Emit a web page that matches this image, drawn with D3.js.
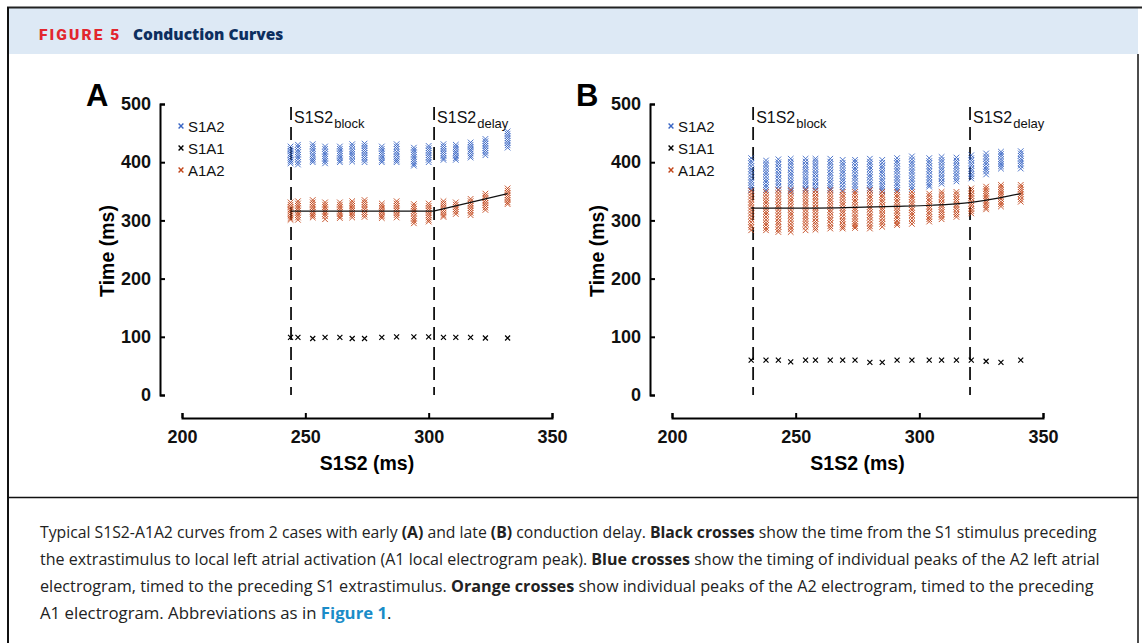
<!DOCTYPE html>
<html>
<head>
<meta charset="utf-8">
<script src="https://cdn.jsdelivr.net/npm/d3@7"></script>
<style>
  body { margin: 0; background: #fff; }
  svg { display: block; }
</style>
</head>
<body>
<div id="chart"></div>
<script>
// ---- data ----
// Panel A
var aS1S2 = [244, 247, 253, 258, 264, 269, 274, 281, 287, 294, 300, 306, 311, 317, 323, 332];
var aS1A2 = [
  [427, 423, 419, 415, 412, 408, 404, 401, 398],
  [430, 426, 421, 417, 413, 409, 405, 400, 396],
  [431, 427, 423, 419, 414, 410, 406, 403, 400],
  [427, 423, 418, 414, 410, 406, 402, 398],
  [427, 423, 419, 415, 411, 407, 403, 400],
  [431, 427, 422, 418, 414, 410, 405, 401],
  [432, 428, 424, 420, 416, 412, 408, 404, 400],
  [427, 423, 419, 415, 411, 407, 403, 400],
  [431, 427, 423, 418, 414, 410, 406, 403, 400],
  [425, 421, 417, 413, 409, 405, 401, 397, 394],
  [428, 424, 420, 416, 412, 408, 404, 400],
  [431, 427, 423, 419, 415, 411, 407, 404],
  [430, 426, 422, 418, 415, 411, 407, 404],
  [434, 430, 426, 422, 419, 415, 411, 408],
  [440, 436, 432, 428, 424, 420, 416, 412],
  [453, 449, 445, 441, 437, 433, 429, 425]
];
var aA1A2 = [
  [331, 327, 323, 319, 316, 312, 308, 304, 301],
  [333, 329, 325, 321, 317, 313, 309, 305, 301],
  [335, 331, 327, 323, 319, 315, 311, 308, 305],
  [331, 327, 323, 319, 315, 311, 307, 302],
  [331, 327, 323, 319, 315, 311, 307, 304],
  [333, 329, 325, 321, 317, 313, 309, 305],
  [335, 331, 327, 323, 319, 314, 310, 306],
  [329, 325, 321, 317, 314, 310, 307, 304],
  [333, 329, 325, 321, 317, 313, 309, 305],
  [328, 324, 320, 316, 312, 307, 303, 299, 295],
  [329, 325, 321, 317, 313, 309, 305, 301, 298],
  [333, 329, 325, 321, 317, 313, 309, 306],
  [331, 327, 323, 319, 315, 311],
  [337, 333, 329, 325, 321, 317, 313, 309],
  [346, 342, 338, 334, 330, 326, 322, 318],
  [355, 351, 347, 343, 339, 335, 331, 328]
];
var aS1A1 = [99, 99, 97, 99, 99, 97, 97, 99, 100, 100, 100, 99, 99, 99, 98, 98];
var aFitX = [244, 302, 332];
var aFitY = [316, 316, 346];
var aBlock = 244.2, aDelay = 302.2;

// Panel B
var bS1S2 = [232, 238, 243, 248, 254, 258, 264, 269, 274, 280, 285, 291, 297, 304, 309, 315, 321, 327, 333, 341];
var bS1A2 = [
  [407, 402, 398, 393, 388, 384, 379, 374, 369, 365, 360, 356, 352],
  [403, 398, 394, 389, 384, 380, 375, 370, 366, 361, 357, 352],
  [405, 400, 396, 391, 386, 381, 377, 372, 367, 363, 358, 353],
  [406, 401, 397, 392, 387, 382, 378, 373, 368, 364, 359, 354, 350],
  [406, 401, 396, 392, 387, 383, 378, 373, 369, 364, 360, 355, 352],
  [406, 402, 397, 393, 388, 383, 379, 374, 369, 365, 360, 356, 352],
  [406, 401, 397, 392, 387, 382, 378, 373, 368, 364, 359, 355, 352],
  [404, 399, 395, 390, 385, 381, 376, 371, 367, 362, 357, 352],
  [404, 400, 395, 390, 386, 381, 376, 372, 367, 362, 358, 353],
  [406, 401, 397, 392, 388, 383, 378, 374, 369, 364, 360, 355, 352],
  [404, 399, 394, 390, 385, 381, 376, 371, 367, 362, 358, 354, 350],
  [407, 402, 398, 393, 388, 384, 379, 374, 370, 365, 361, 356, 352],
  [410, 405, 400, 396, 391, 386, 382, 377, 372, 368, 363, 358, 354],
  [407, 402, 398, 393, 388, 384, 379, 374, 370, 365, 361, 358],
  [409, 404, 400, 395, 390, 386, 381, 376, 372, 367, 363],
  [408, 403, 399, 394, 390, 385, 380, 376, 371, 367],
  [412, 407, 403, 398, 394, 389, 385, 380, 376, 372],
  [415, 410, 406, 401, 397, 392, 388, 384, 379],
  [418, 414, 410, 405, 401, 397, 393, 389],
  [419, 415, 411, 406, 402, 398, 394, 389]
];
var bA1A2 = [
  [351, 346, 341, 336, 331, 327, 322, 317, 312, 307, 302, 297, 292, 288, 283],
  [349, 344, 339, 334, 330, 325, 320, 315, 311, 306, 301, 296, 292, 287, 283],
  [352, 347, 342, 337, 332, 327, 323, 318, 313, 308, 303, 298, 294, 289, 284, 280],
  [352, 347, 342, 337, 333, 328, 323, 318, 313, 309, 304, 299, 294, 289, 285, 280],
  [352, 347, 342, 337, 332, 328, 323, 318, 313, 308, 304, 299, 294, 289, 283],
  [351, 346, 341, 337, 332, 327, 322, 318, 313, 308, 303, 298, 294, 288, 284],
  [352, 347, 342, 337, 333, 328, 323, 318, 314, 309, 304, 300, 295, 290, 286],
  [349, 344, 340, 335, 330, 326, 321, 316, 312, 307, 302, 298, 293, 289, 286],
  [349, 345, 340, 335, 331, 326, 321, 317, 312, 307, 303, 298, 294, 290, 287],
  [352, 347, 342, 338, 333, 328, 323, 319, 314, 309, 305, 300, 295, 290, 286],
  [349, 344, 340, 335, 331, 326, 321, 317, 312, 308, 303, 298, 294, 289],
  [349, 344, 340, 335, 331, 326, 322, 317, 313, 308, 304, 299, 295, 292],
  [349, 344, 340, 336, 331, 327, 322, 318, 313, 309, 304, 299, 294],
  [346, 342, 337, 333, 328, 324, 320, 315, 311, 306, 302, 298],
  [349, 345, 340, 336, 331, 327, 323, 318, 314, 310, 306, 302],
  [349, 345, 340, 336, 332, 327, 323, 319, 314, 310, 306],
  [355, 351, 346, 342, 338, 333, 329, 325, 320, 316, 312],
  [358, 354, 350, 346, 342, 338, 334, 330, 326, 322, 319],
  [361, 357, 353, 349, 345, 341, 337, 332, 328, 324],
  [361, 357, 353, 349, 345, 341, 336, 332]
];
var bS1A1 = [60, 60, 60, 57, 60, 60, 60, 60, 60, 56, 56, 60, 60, 60, 60, 60, 60, 58, 56, 60];
var bFitX = [232, 250, 270, 290, 305, 321, 333, 341];
var bFitY = [321, 321, 322, 324, 326, 331, 339, 346];
var bBlock = 232.8, bDelay = 320.5;

var yTicks = [0, 100, 200, 300, 400, 500];
var xTicks = [200, 250, 300, 350];
var seriesNames = ["S1A2", "S1A1", "A1A2"];

var blue = "#3a66c4", orange = "#c2461a", black = "#000";
var plotFont = "'Liberation Sans', Arial, Helvetica, sans-serif";

var svg = d3.select("#chart").append("svg")
    .attr("width", 1142)
    .attr("height", 643);

// ---- frame and header ----
svg.append("rect").attr("x", 0).attr("y", 0).attr("width", 1142).attr("height", 643).attr("fill", "#fff");
svg.append("rect").attr("x", 8).attr("y", 8).attr("width", 1130).attr("height", 46).attr("fill", "#dde9f5");
svg.append("line").attr("x1", 7).attr("x2", 1142).attr("y1", 7.5).attr("y2", 7.5)
    .attr("stroke", "#222").attr("stroke-width", 2);
svg.append("line").attr("x1", 8).attr("x2", 8).attr("y1", 7).attr("y2", 643)
    .attr("stroke", "#111").attr("stroke-width", 2);
svg.append("line").attr("x1", 1138).attr("x2", 1138).attr("y1", 54).attr("y2", 643)
    .attr("stroke", "#111").attr("stroke-width", 1.5);
svg.append("line").attr("x1", 8).attr("x2", 1138).attr("y1", 497.5).attr("y2", 497.5)
    .attr("stroke", "#111").attr("stroke-width", 1.5);

svg.append("text")
    .attr("x", 39).attr("y", 39.5)
    .attr("font-family", "Roboto, 'Open Sans', sans-serif")
    .attr("font-weight", 900)
    .attr("font-size", 15.5)
    .attr("letter-spacing", 2.1)
    .attr("fill", "#e2262e")
    .text("FIGURE 5");
svg.append("text")
    .attr("x", 133).attr("y", 39.5)
    .attr("font-family", "'Open Sans', Roboto, sans-serif")
    .attr("font-weight", 800)
    .attr("font-size", 15.5)
    .attr("fill", "#0d2f5f")
    .text("Conduction Curves");

// ---- panels ----
function cross(size) {
  return "M" + (-size) + "," + (-size) + "L" + size + "," + size +
         "M" + (-size) + "," + size + "L" + size + "," + (-size);
}

function drawPanel(p) {
  var g = svg.append("g");
  var x = d3.scaleLinear().domain([200, 350]).range([p.x0, p.x1]);
  var y = d3.scaleLinear().domain([0, 500]).range([395, 104]);

  // y axis
  var ya = g.append("g")
      .attr("transform", "translate(" + p.ax + ",0)")
      .call(d3.axisLeft(y).tickValues(yTicks).tickSizeInner(-5).tickSizeOuter(-5).tickPadding(9));
  // x axis (offset below)
  var xa = g.append("g")
      .attr("transform", "translate(0,418)")
      .call(d3.axisBottom(x).tickValues(xTicks).tickSizeInner(-5).tickSizeOuter(-5).tickPadding(12));
  [ya, xa].forEach(function(a) {
    a.selectAll("path.domain").attr("stroke-width", 2);
    a.selectAll(".tick line").attr("stroke-width", 2);
    a.selectAll("text")
        .attr("font-family", plotFont)
        .attr("font-weight", "bold")
        .attr("font-size", 18)
        .attr("fill", "#111");
  });

  g.append("text")
      .attr("transform", "translate(" + (p.ax - 46) + ",251) rotate(-90)")
      .attr("text-anchor", "middle")
      .attr("font-family", plotFont).attr("font-weight", "bold").attr("font-size", 19.5)
      .text("Time (ms)");
  g.append("text")
      .attr("x", (p.x0 + p.x1) / 2).attr("y", 470)
      .attr("text-anchor", "middle")
      .attr("font-family", plotFont).attr("font-weight", "bold").attr("font-size", 19.5)
      .text("S1S2 (ms)");
  g.append("text")
      .attr("x", p.ax - 74).attr("y", 106)
      .attr("font-family", plotFont).attr("font-weight", "bold").attr("font-size", 31)
      .text(p.letter);

  // dashed markers
  [[p.block, "block"], [p.delay, "delay"]].forEach(function(d) {
    g.append("line")
        .attr("x1", x(d[0])).attr("x2", x(d[0]))
        .attr("y1", 107).attr("y2", 395)
        .attr("stroke", "#111").attr("stroke-width", 1.8)
        .attr("stroke-dasharray", "13,7");
    var t = g.append("text")
        .attr("x", x(d[0]) + 3).attr("y", 123)
        .attr("font-family", plotFont).attr("font-size", 16)
        .attr("fill", "#111");
    t.append("tspan").text("S1S2");
    t.append("tspan").attr("dy", 5).attr("dx", 1).attr("font-size", 13).text(d[1]);
  });

  // scatter columns
  function scatter(cols, color) {
    var pts = [];
    cols.forEach(function(vals, i) {
      vals.forEach(function(v) { pts.push([p.s1s2[i], v]); });
    });
    g.append("g").selectAll("path")
      .data(pts).enter().append("path")
        .attr("transform", function(d) { return "translate(" + x(d[0]) + "," + y(d[1]) + ")"; })
        .attr("d", cross(2.8))
        .attr("fill", "none")
        .attr("stroke", color)
        .attr("stroke-width", 1)
        .attr("stroke-opacity", 0.9);
  }
  scatter(p.s1a2, blue);
  scatter(p.a1a2, orange);

  g.append("g").selectAll("path")
    .data(p.s1a1).enter().append("path")
      .attr("transform", function(d, i) { return "translate(" + x(p.s1s2[i]) + "," + y(d) + ")"; })
      .attr("d", cross(2.5))
      .attr("fill", "none")
      .attr("stroke", black)
      .attr("stroke-width", 1.2);

  // fit line
  var line = d3.line()
      .x(function(d) { return x(d[0]); })
      .y(function(d) { return y(d[1]); })
      .curve(p.smooth ? d3.curveMonotoneX : d3.curveLinear);
  g.append("path")
      .datum(d3.zip(p.fitX, p.fitY))
      .attr("d", line)
      .attr("fill", "none")
      .attr("stroke", "#111")
      .attr("stroke-width", 1.2);

  // legend
  var lg = g.append("g").attr("transform", "translate(" + (p.ax + 21) + ",126)");
  seriesNames.forEach(function(name, i) {
    var c = [blue, black, orange][i];
    lg.append("path")
        .attr("transform", "translate(0," + (i * 22) + ")")
        .attr("d", cross(2.4))
        .attr("fill", "none").attr("stroke", c).attr("stroke-width", 1.4);
    lg.append("text")
        .attr("x", 7).attr("y", i * 22 + 5.5)
        .attr("font-family", plotFont).attr("font-size", 15)
        .attr("fill", "#111")
        .text(name);
  });
}

drawPanel({
  letter: "A", ax: 160, x0: 182, x1: 552, smooth: false,
  s1s2: aS1S2, s1a2: aS1A2, a1a2: aA1A2, s1a1: aS1A1,
  fitX: aFitX, fitY: aFitY, block: aBlock, delay: aDelay
});
drawPanel({
  letter: "B", ax: 650, x0: 672, x1: 1043, smooth: true,
  s1s2: bS1S2, s1a2: bS1A2, a1a2: bA1A2, s1a1: bS1A1,
  fitX: bFitX, fitY: bFitY, block: bBlock, delay: bDelay
});

// ---- caption ----
var capLines = [
  [["Typical S1S2-A1A2 curves from 2 cases with early ", 0], ["(A)", 1], [" and late ", 0], ["(B)", 1],
   [" conduction delay. ", 0], ["Black crosses", 1], [" show the time from the S1 stimulus preceding", 0]],
  [["the extrastimulus to local left atrial activation (A1 local electrogram peak). ", 0], ["Blue crosses", 1],
   [" show the timing of individual peaks of the A2 left atrial", 0]],
  [["electrogram, timed to the preceding S1 extrastimulus. ", 0], ["Orange crosses", 1],
   [" show individual peaks of the A2 electrogram, timed to the preceding", 0]],
  [["A1 electrogram. Abbreviations as in ", 0], ["Figure 1", 2], [".", 0]]
];
var capWidths = [1057, 1060, 1054, 352];
var capY = [538, 565, 592, 619];

capLines.forEach(function(parts, li) {
  var t = svg.append("text")
      .attr("x", 0).attr("y", 0)
      .attr("font-family", "'Open Sans', 'Noto Sans', sans-serif")
      .attr("font-size", 16)
      .attr("fill", "#222");
  parts.forEach(function(pt) {
    t.append("tspan")
        .attr("font-weight", pt[1] ? 700 : 400)
        .attr("fill", pt[1] === 2 ? "#1a8cc8" : "#222")
        .text(pt[0]);
  });
  var w = t.node().getComputedTextLength();
  t.attr("transform", "translate(40," + capY[li] + ") scale(" + (capWidths[li] / w) + ",1)");
});
</script>
</body>
</html>
